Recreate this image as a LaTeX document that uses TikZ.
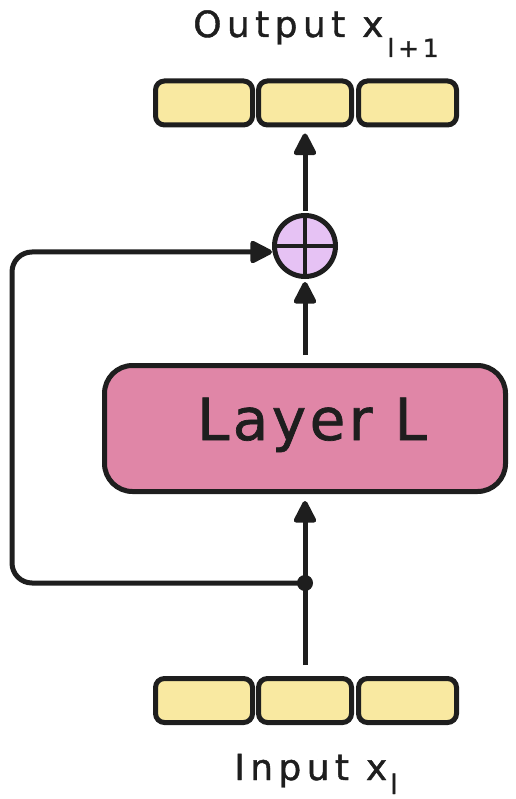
\documentclass[tikz,border=0pt]{standalone}
\usepackage{fontspec}
\usetikzlibrary{arrows.meta}
\newfontfamily\handA[LetterSpace=15,FakeBold=1.2]{DejaVu Sans}
\newfontfamily\handB[LetterSpace=6,FakeBold=1.2]{DejaVu Sans}
\definecolor{ink}{HTML}{1E1E1E}
\definecolor{cellyellow}{HTML}{F9E9A1}
\definecolor{sumpurple}{HTML}{E6C2F4}
\definecolor{layerpink}{HTML}{E086A7}
\tikzset{
  cell/.style={draw=ink, fill=cellyellow, line width=5pt, rounded corners=9pt, minimum height=44pt, inner sep=0pt},
  arr/.style={draw=ink, line width=5pt, -{Triangle[length=25pt,width=24pt,round]}},
  plain/.style={draw=ink, line width=5pt},
}
\begin{document}
\begin{tikzpicture}[x=1pt,y=-1pt]
\useasboundingbox (0,0) rectangle (515,799);
% output cells
\node[cell, minimum width=97pt] (o1) at (204,103) {};
\node[cell, minimum width=93pt] (o2) at (305,103) {};
\node[cell, minimum width=98pt] (o3) at (407.5,103) {};
% input cells
\node[cell, minimum width=97pt] (i1) at (204,700.5) {};
\node[cell, minimum width=93pt] (i2) at (305,700.5) {};
\node[cell, minimum width=98pt] (i3) at (407.5,700.5) {};
% layer
\node[draw=ink, fill=layerpink, line width=5pt, rounded corners=28pt, minimum width=401pt, minimum height=126pt] (layer) at (305,428.5) {};
\node[anchor=base, inner sep=0pt, text=ink] (ltext) at (312,440) {\handB\fontsize{58}{58}\selectfont Layer L};
% sum
\node[draw=ink, fill=sumpurple, line width=5pt, circle, minimum size=61pt, inner sep=0pt] (sum) at (305,246) {};
\draw[ink, line width=4pt] (sum.north) -- (sum.south) (sum.west) -- (sum.east);
% labels
\node[anchor=base, inner sep=0pt, text=ink] (otext) at (316,37) {\handA\fontsize{36}{36}\selectfont Output x\kern4pt\raisebox{-20pt}{\fontsize{25}{25}\selectfont l+1}};
\node[anchor=base, inner sep=0pt, text=ink] (itext) at (316,780) {\handA\fontsize{36}{36}\selectfont Input x\kern3pt\raisebox{-14pt}{\fontsize{27}{27}\selectfont l}};
% split dot
\node[circle, fill=ink, minimum size=16pt, inner sep=0pt] (dot) at (305,583) {};
\coordinate (cbl) at (12,583);
\coordinate (ctl) at (12,252);
\coordinate (cin) at (272,252);
% connectors
\draw[plain] ([yshift=11pt]i2.north) -- (dot.center);
\draw[arr, shorten >=7pt] (dot.center) -- (layer.south);
\draw[arr, shorten <=8pt, shorten >=3pt] (layer.north) -- (sum.south);
\draw[arr, shorten <=2pt, shorten >=6pt] (sum.north) -- (o2.south);
\draw[arr, rounded corners=20pt] (dot.center) -- (cbl) -- (ctl) -- (cin);
\end{tikzpicture}
\end{document}
